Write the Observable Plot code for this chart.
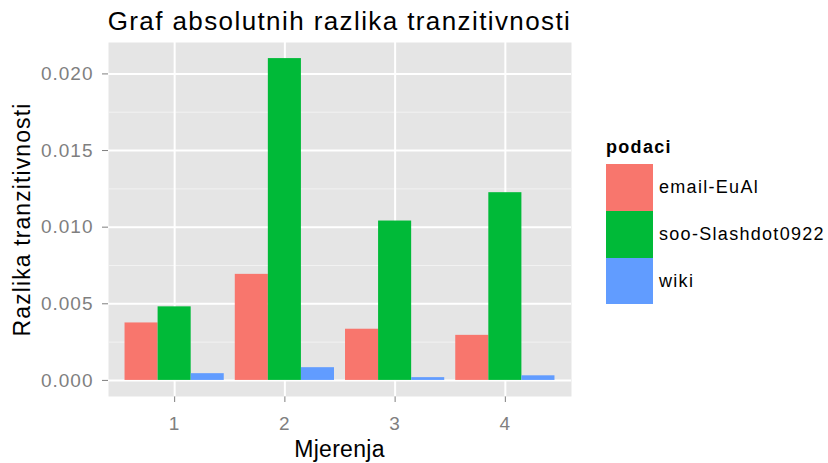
<!DOCTYPE html>
<html>
<head>
<meta charset="utf-8">
<script src="https://cdn.jsdelivr.net/npm/d3@7"></script>
<script src="https://cdn.jsdelivr.net/npm/@observablehq/plot@0.6"></script>
<style>
  body { margin: 0; background: white; font-family: "Liberation Sans", Arial, sans-serif; }
  #wrap { position: relative; width: 828px; height: 463px; overflow: hidden; }
  #title { position: absolute; left: 39.5px; width: 600px; top: 8px; line-height: 26px; text-align: center; font-size: 26px; letter-spacing: 1.4px; color: #000; white-space: nowrap; }
  #xtitle { position: absolute; left: 189.5px; width: 300px; top: 438px; line-height: 23px; text-align: center; font-size: 23px; letter-spacing: 0.3px; color: #000; white-space: nowrap; }
  #ytitle { position: absolute; left: -128px; width: 300px; top: 207.5px; line-height: 23px; text-align: center; font-size: 23px; letter-spacing: 1.1px; color: #000; white-space: nowrap; transform: rotate(-90deg); transform-origin: 150px 11.5px; }
  #ltitle { position: absolute; left: 606px; top: 138px; line-height: 18px; font-weight: bold; font-size: 18px; letter-spacing: 1.3px; color: #000; }
  #legend { position: absolute; left: 605.5px; top: 164.3px; }
  #legend .row { display: flex; align-items: center; height: 46.7px; }
  #legend .sw { width: 47px; height: 46.7px; }
  #legend .lab { margin-left: 6.5px; font-size: 18px; letter-spacing: 1.3px; color: #000; white-space: nowrap; }
  #chart { position: absolute; left: 0; top: 42px; }
  #chart svg text { letter-spacing: 1px; }
</style>
</head>
<body>
<div id="wrap">
  <div id="chart"></div>
  <div id="title">Graf absolutnih razlika tranzitivnosti</div>
  <div id="xtitle">Mjerenja</div>
  <div id="ytitle">Razlika tranzitivnosti</div>
  <div id="ltitle">podaci</div>
  <div id="legend"></div>
</div>
<script>
const mjerenja = [1, 2, 3, 4];
const podaci = ["email-EuAl", "soo-Slashdot0922", "wiki"];
const emailEuAl = [0.00375, 0.00692, 0.00334, 0.00294];
const slashdot0922 = [0.00480, 0.02100, 0.01040, 0.01225];
const wiki = [0.00044, 0.00083, 0.00018, 0.00030];
const yTicks = [0, 0.005, 0.010, 0.015, 0.020];
const yMinor = [0.0025, 0.0075, 0.0125, 0.0175];
const colors = ["#F8766D", "#00BA38", "#619CFF"];

const series = [emailEuAl, slashdot0922, wiki];
const data = [];
podaci.forEach((p, j) => mjerenja.forEach((m, i) => data.push({m, p, j, v: series[j][i]})));
const bw = 0.3;

const chart = Plot.plot({
  width: 828,
  height: 421,
  marginTop: 0,
  marginLeft: 108,
  marginRight: 257,
  marginBottom: 67,
  style: {fontFamily: "Liberation Sans, Arial, sans-serif", fontSize: "19px", color: "#7f7f7f", background: "transparent"},
  x: {domain: [0.4, 4.6], ticks: mjerenja, tickFormat: d => String(d), label: null, tickSize: 6, tickPadding: 14},
  y: {domain: [-0.00105, 0.02205], ticks: yTicks, tickFormat: d3.format(".3f"), label: null, tickSize: 6, tickPadding: 9},
  color: {domain: podaci, range: colors},
  marks: [
    Plot.frame({fill: "#e5e5e5", stroke: null}),
    Plot.ruleY(yMinor, {stroke: "#f2f2f2", strokeWidth: 1}),
    Plot.ruleY(yTicks, {stroke: "#ffffff", strokeWidth: 2}),
    Plot.ruleX(mjerenja, {stroke: "#ffffff", strokeWidth: 2}),
    Plot.rectY(data, {
      x1: d => d.m - 0.45 + d.j * bw,
      x2: d => d.m - 0.45 + (d.j + 1) * bw,
      y1: 0, y2: "v", fill: "p"
    })
  ]
});
document.getElementById("chart").appendChild(chart);

const lg = document.getElementById("legend");
podaci.forEach((p, j) => {
  const r = document.createElement("div"); r.className = "row";
  const s = document.createElement("div"); s.className = "sw"; s.style.background = colors[j];
  const l = document.createElement("div"); l.className = "lab"; l.textContent = p;
  r.appendChild(s); r.appendChild(l); lg.appendChild(r);
});
</script>
</body>
</html>
